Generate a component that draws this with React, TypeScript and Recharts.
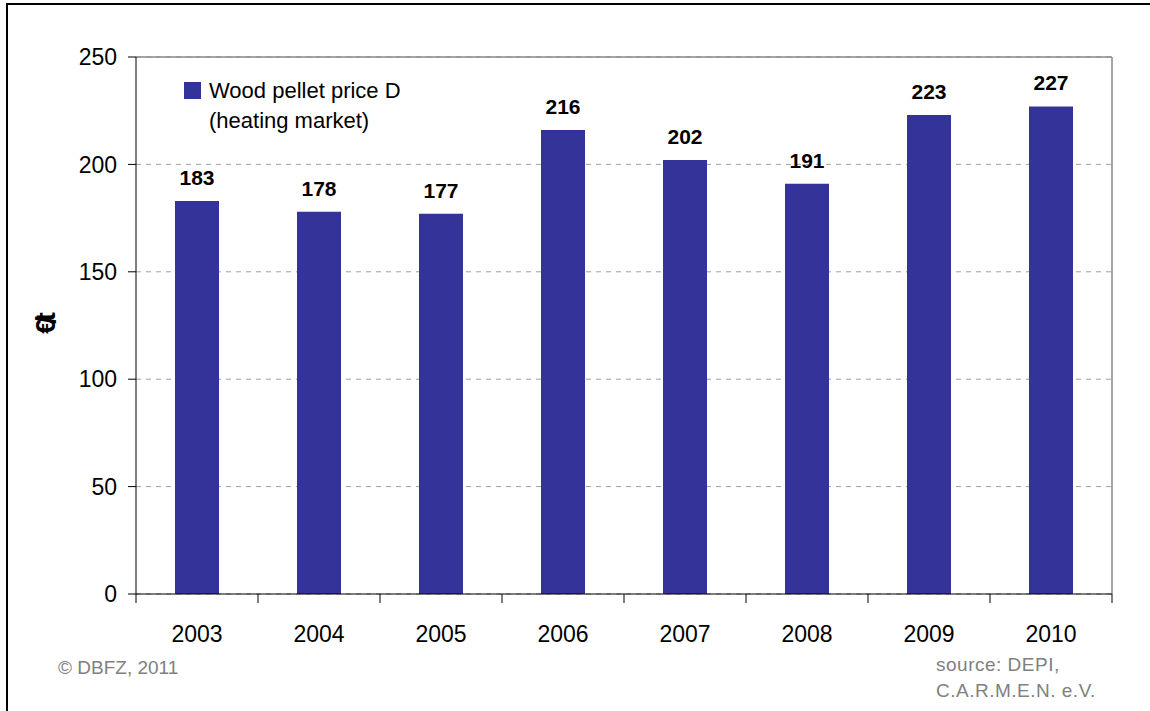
import React from "react";
import {
  BarChart,
  Bar,
  XAxis,
  YAxis,
  CartesianGrid,
  Legend,
  LabelList,
  ReferenceLine,
} from "recharts";

const years = ["2003", "2004", "2005", "2006", "2007", "2008", "2009", "2010"];
const prices = [183, 178, 177, 216, 202, 191, 223, 227];
const yTicks = [0, 50, 100, 150, 200, 250];

const data = years.map((year, i) => ({ year, price: prices[i] }));

const FONT = "Arial, 'Liberation Sans', sans-serif";
const BAND = 122; // category width in px

const YearTick = (props: any) => {
  const { x, y, payload, index } = props;
  const last = index === years.length - 1;
  return (
    <g>
      <line x1={x - BAND / 2} y1={y} x2={x - BAND / 2} y2={y + 9} stroke="#000" />
      {last && (
        <line x1={x + BAND / 2} y1={y} x2={x + BAND / 2} y2={y + 9} stroke="#000" />
      )}
      <text
        x={x}
        y={y + 48}
        textAnchor="middle"
        fontSize={23}
        fontFamily={FONT}
        fill="#000"
      >
        {payload.value}
      </text>
    </g>
  );
};

const LegendBox = () => (
  <div
    style={{
      display: "flex",
      alignItems: "flex-start",
      fontFamily: FONT,
      fontSize: 22,
      lineHeight: "30px",
      color: "#000",
    }}
  >
    <span
      style={{
        display: "inline-block",
        width: 17,
        height: 17,
        background: "#333399",
        marginTop: 6,
        marginRight: 8,
      }}
    />
    <div>
      <div>Wood pellet price D</div>
      <div>(heating market)</div>
    </div>
  </div>
);

const App = () => {
  return (
    <div
      style={{
        position: "absolute",
        left: 0,
        top: 0,
        width: 1150,
        height: 711,
        overflow: "hidden",
        background: "#fff",
      }}
    >
      <div
        style={{
          position: "absolute",
          left: 6,
          top: 3,
          width: 1200,
          height: 800,
          border: "2px solid #000",
        }}
      />
      <div style={{ position: "absolute", left: 0, top: 0 }}>
        <BarChart
          width={1150}
          height={711}
          data={data}
          margin={{ top: 57, right: 38, bottom: 0, left: 0 }}
          barSize={44}
        >
          <CartesianGrid
            vertical={false}
            stroke="#a0a0a0"
            strokeDasharray="5 5"
          />
          <XAxis
            dataKey="year"
            height={117}
            axisLine={{ stroke: "#000" }}
            tickLine={false}
            tickSize={0}
            tickMargin={0}
            interval={0}
            tick={<YearTick />}
          />
          <YAxis
            width={136}
            domain={[0, 250]}
            ticks={yTicks}
            interval={0}
            axisLine={{ stroke: "#000" }}
            tickLine={{ stroke: "#000" }}
            tickSize={8}
            tickMargin={11}
            tick={{ fill: "#000", fontSize: 23, fontFamily: FONT }}
            label={({ viewBox }: any) => (
              <text
                x={46}
                y={viewBox.y + viewBox.height / 2}
                transform={`rotate(-90, 46, ${viewBox.y + viewBox.height / 2})`}
                textAnchor="middle"
                dominantBaseline="central"
                fontSize={27}
                fontWeight="bold"
                letterSpacing={-5}
                fontFamily={FONT}
                fill="#000"
              >
                €/t
              </text>
            )}
          />
          <ReferenceLine y={250} stroke="#888" strokeWidth={1.5} />
          <ReferenceLine
            x={years[years.length - 1]}
            position="end"
            stroke="#888"
            strokeWidth={1.5}
          />
          <Legend
            layout="vertical"
            align="center"
            verticalAlign="middle"
            content={<LegendBox />}
            wrapperStyle={{ position: "absolute", top: 76, left: 184, width: 300 }}
          />
          <Bar dataKey="price" fill="#333399" isAnimationActive={false}>
            <LabelList
              dataKey="price"
              position="top"
              offset={16}
              fill="#000"
              fontSize={21}
              fontWeight="bold"
              fontFamily={FONT}
            />
          </Bar>
        </BarChart>
      </div>
      <div
        style={{
          position: "absolute",
          left: 58,
          top: 657,
          fontFamily: FONT,
          fontSize: 19,
          color: "#808080",
        }}
      >
        © DBFZ, 2011
      </div>
      <div
        style={{
          position: "absolute",
          left: 936,
          top: 652,
          fontFamily: FONT,
          fontSize: 19,
          lineHeight: "26px",
          color: "#808080",
          letterSpacing: 0.5,
        }}
      >
        <div>source: DEPI,</div>
        <div>C.A.R.M.E.N. e.V.</div>
      </div>
    </div>
  );
};

export default App;
